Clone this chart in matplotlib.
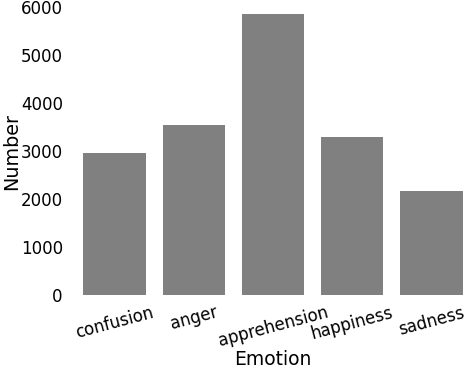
import matplotlib.pyplot as plt
import numpy as np

emotions = ['confusion', 'anger', 'apprehension', 'happiness', 'sadness']
counts = [2965, 3545, 5865, 3295, 2165]

plt.rcParams['font.size'] = 12

fig = plt.figure(figsize=(4.66, 3.70), dpi=100)
ax = fig.add_axes([83/466, (370-294.5)/370, (463-83)/466, 287/370])

x = np.arange(len(emotions))
ax.bar(x, counts, width=0.79, color='grey')

ax.set_xlim(-0.4, 4.4)
ax.set_ylim(0, 6000)
ax.set_yticks(np.arange(0, 6001, 1000))
ax.set_xticks(x)
ax.set_xticklabels(emotions, rotation=15, ha='center')
ax.tick_params(axis='both', length=0)
ax.tick_params(axis='x', pad=6.5)
ax.tick_params(axis='y', pad=14.5)

for s in ax.spines.values():
	s.set_visible(False)

ax.set_xlabel('Emotion', fontsize=13.5, labelpad=0)
ax.set_ylabel('Number', fontsize=13.8, labelpad=0)

fig.savefig('out.png', dpi=100)
